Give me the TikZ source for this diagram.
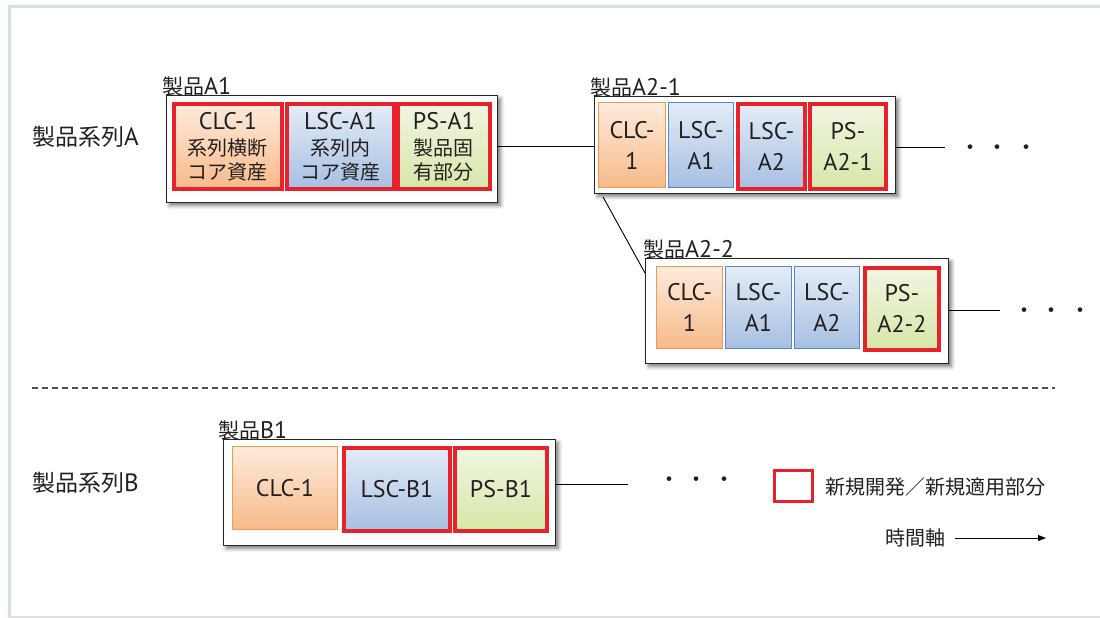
\documentclass[tikz,border=0pt]{standalone}
\usepackage{fontspec}
\setmainfont{PT Sans}
\newfontfamily\jpfont{Noto Sans CJK JP}
\usetikzlibrary{shadows.blur,arrows.meta,calc}

% Latin and Japanese runs at their own sizes
\newcommand\boxlat[1]{{\fontsize{24}{31}\selectfont #1}}
\newcommand\boxjp[1]{{\jpfont\fontsize{20}{24}\selectfont #1}}

\definecolor{txt}{HTML}{231F20}
\definecolor{newred}{HTML}{E8222A}
\definecolor{orline}{HTML}{F29A52}
\definecolor{ortop}{HTML}{FDEBDD}
\definecolor{orbot}{HTML}{F7BA88}
\definecolor{blline}{HTML}{5B86C0}
\definecolor{bltop}{HTML}{E4ECF7}
\definecolor{blbot}{HTML}{A6BFE2}
\definecolor{grline}{HTML}{B8D08C}
\definecolor{grtop}{HTML}{F1F6E2}
\definecolor{grbot}{HTML}{D6E6A8}
\definecolor{framecol}{HTML}{D3E5D5}

\tikzset{
  every node/.style={text=txt, inner sep=0pt},
  product/.style={draw=black!85, line width=0.9pt, fill=white, anchor=north west,
    blur shadow={shadow xshift=3pt, shadow yshift=-3pt, shadow blur radius=4pt,
      shadow opacity=55}},
  part/.style={anchor=north west, align=center, line width=1pt,
    font=\fontsize{24}{31}\selectfont},
  clc/.style={part, draw=orline, top color=ortop, bottom color=orbot},
  lsc/.style={part, draw=blline, top color=bltop, bottom color=blbot},
  ps/.style={part, draw=grline, top color=grtop, bottom color=grbot},
  newpart/.style={draw=newred, line width=3.8pt},
  title/.style={anchor=south west, font=\fontsize{24}{26}\selectfont},
  series/.style={anchor=west, font=\fontsize{25}{27}\selectfont},
  link/.style={draw=black, line width=0.9pt},
  more/.style={font=\jpfont\fontsize{22}{22}\selectfont},
}

\begin{document}
\begin{tikzpicture}[x=1pt, y=-1pt]
\useasboundingbox (0,0) rectangle (1100,618);

% page frame
\draw[framecol, line width=3pt] (9,618) -- (9,7) -- (1100,7);
\draw[black!12, line width=1.5pt] (9,617) -- (1100,617);

% series labels
\node[series] (serA) at (32,137) {{\jpfont\fontsize{23}{27}\selectfont 製品系列}A};
\node[series] (serB) at (32,483) {{\jpfont\fontsize{23}{27}\selectfont 製品系列}B};

% product A1
\node[product, minimum width=331pt, minimum height=107pt] (a1) at (166,95) {};
\node[title] (ta1) at (a1.north west) [xshift=-4pt, yshift=-1pt] {{\jpfont\fontsize{21}{26}\selectfont 製品}A1};
\node[clc, newpart, minimum width=108pt, minimum height=85pt] (a1clc) at (172,102)
  {\boxlat{CLC-1}\\[-5pt]\boxjp{系列横断}\\[-7pt]\boxjp{コア資産}};
\node[lsc, newpart, minimum width=107pt, minimum height=85pt] (a1lsc) at (285,102)
  {\boxlat{LSC-A1}\\[-5pt]\boxjp{系列内}\\[-7pt]\boxjp{コア資産}};
\node[ps, newpart, minimum width=92pt, minimum height=85pt] (a1ps) at (396,102)
  {\boxlat{PS-A1}\\[-5pt]\boxjp{製品固}\\[-7pt]\boxjp{有部分}};

% product A2-1
\node[product, minimum width=301pt, minimum height=97pt] (a21) at (594,96) {};
\node[title] (ta21) at (a21.north west) [xshift=-4pt, yshift=-1pt] {{\jpfont\fontsize{21}{26}\selectfont 製品}A2-1};
\node[clc, minimum width=67pt, minimum height=85pt] (a21clc) at (598,102) {CLC-\\1};
\node[lsc, minimum width=65pt, minimum height=85pt] (a21lsc1) at (668,102) {LSC-\\A1};
\node[lsc, newpart, minimum width=67pt, minimum height=85pt] (a21lsc2) at (736,102) {LSC-\\A2};
\node[ps, newpart, minimum width=76pt, minimum height=85pt] (a21ps) at (808,102) {PS-\\A2-1};

% product A2-2
\node[product, minimum width=303pt, minimum height=105pt] (a22) at (645,258) {};
\node[title] (ta22) at (a22.north west) [xshift=-2pt, yshift=-1pt] {{\jpfont\fontsize{21}{26}\selectfont 製品}A2-2};
\node[clc, minimum width=66pt, minimum height=82pt] (a22clc) at (656,266) {CLC-\\1};
\node[lsc, minimum width=66pt, minimum height=82pt] (a22lsc1) at (725,266) {LSC-\\A1};
\node[lsc, minimum width=65pt, minimum height=82pt] (a22lsc2) at (794,266) {LSC-\\A2};
\node[ps, newpart, minimum width=74pt, minimum height=82pt] (a22ps) at (863,266) {PS-\\A2-2};

% product B1
\node[product, minimum width=332pt, minimum height=106pt] (b1) at (223,439) {};
\node[title] (tb1) at (b1.north west) [xshift=-5pt, yshift=-1pt] {{\jpfont\fontsize{21}{26}\selectfont 製品}B1};
\node[clc, minimum width=105pt, minimum height=83pt] (b1clc) at (232,446) {CLC-1};
\node[lsc, newpart, minimum width=106pt, minimum height=83pt] (b1lsc) at (342,446) {LSC-B1};
\node[ps, newpart, minimum width=92pt, minimum height=83pt] (b1ps) at (453,446) {PS-B1};

% continuation ends
\coordinate (a21end) at (945,147);
\coordinate (a22end) at (1000,310);
\coordinate (b1end) at (628,484);
\node[more] (dotsa21) at (998,150) {・\hspace{6pt}・\hspace{6pt}・};
\node[more] (dotsa22) at (1052,313) {・\hspace{6pt}・\hspace{6pt}・};
\node[more] (dotsb1) at (697,482) {・\hspace{6pt}・\hspace{6pt}・};

% connectors
\draw[link] (a1.east |- a1clc.center) -- (a21.west |- a1clc.center);
\draw[link] ($(a21.south west)+(9,3)$) -- ($(a22.north west)+(0,15)$);
\draw[link] (a21.east |- a21end) -- (a21end);
\draw[link] (a22.east |- a22end) -- (a22end);
\draw[link] (b1.east |- b1end) -- (b1end);

% series separator
\draw[black!70, line width=1.3pt, dash pattern=on 5.5pt off 4.5pt] (32,388) -- (1055,388);

% legend
\node[draw=newred, line width=3pt, fill=white, minimum width=38pt, minimum height=31pt] (legbox) at (793,486) {};
\node[anchor=west, font=\jpfont\fontsize{20}{22}\selectfont] (legtxt) at (825,487) {新規開発／新規適用部分};
\node[font=\jpfont\fontsize{20}{22}\selectfont] (axis) at (915,538) {時間軸};
\coordinate (axisend) at (1046,538);
\draw[line width=0.9pt, -{Triangle[length=8pt,width=6pt]}] ($(axis.east)+(10,0)$) -- (axisend);
\end{tikzpicture}
\end{document}
